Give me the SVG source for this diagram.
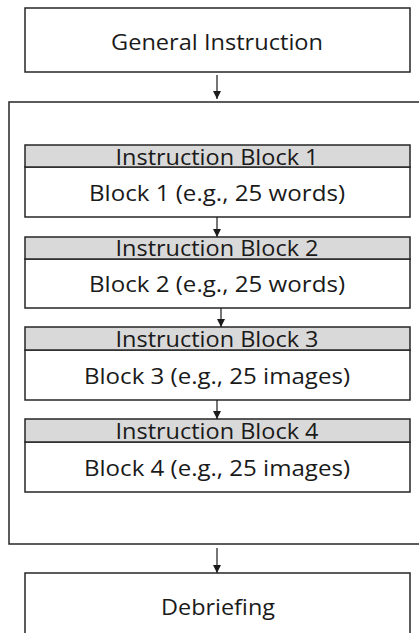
<svg xmlns="http://www.w3.org/2000/svg" width="419" height="633" viewBox="0 0 419 633">
<style>
.box{fill:#fff;stroke:#262626;stroke-width:1.5}
.hdr{fill:#d9d9d9;stroke:#262626;stroke-width:1.5}
.t{font-family:"Open Sans","Liberation Sans",sans-serif;font-size:21px;fill:#1a1a1a;text-anchor:middle}
.c{stroke:#1a1a1a;stroke-width:1.2;fill:none;marker-end:url(#ah)}
</style>
<defs>
<marker id="ah" viewBox="0 0 8 8" refX="8" refY="4" markerWidth="8" markerHeight="8" markerUnits="userSpaceOnUse" orient="auto">
<path d="M0,0 L8,4 L0,8 Z" fill="#1a1a1a"/>
</marker>
</defs>
<rect width="419" height="633" fill="#fff"/>
<g id="container"><rect class="box" x="9" y="102" width="420" height="442"/></g>
<g id="general"><rect class="box" x="25" y="8" width="385" height="64"/><text class="t" x="217" y="50" textLength="212" lengthAdjust="spacingAndGlyphs">General Instruction</text></g>
<g id="block1"><rect class="box" x="25" y="167" width="385" height="50"/><rect class="hdr" x="25" y="145" width="385" height="22"/><text class="t" x="217" y="165" textLength="203" lengthAdjust="spacingAndGlyphs">Instruction Block 1</text><text class="t" x="217" y="201" textLength="256" lengthAdjust="spacingAndGlyphs">Block 1 (e.g., 25 words)</text></g>
<g id="block2"><rect class="box" x="25" y="259" width="385" height="49"/><rect class="hdr" x="25" y="237" width="385" height="22"/><text class="t" x="217" y="256" textLength="203" lengthAdjust="spacingAndGlyphs">Instruction Block 2</text><text class="t" x="217" y="292" textLength="256" lengthAdjust="spacingAndGlyphs">Block 2 (e.g., 25 words)</text></g>
<g id="block3"><rect class="box" x="25" y="350" width="385" height="50"/><rect class="hdr" x="25" y="327" width="385" height="23"/><text class="t" x="217" y="347" textLength="203" lengthAdjust="spacingAndGlyphs">Instruction Block 3</text><text class="t" x="217" y="384" textLength="266" lengthAdjust="spacingAndGlyphs">Block 3 (e.g., 25 images)</text></g>
<g id="block4"><rect class="box" x="25" y="442" width="385" height="50"/><rect class="hdr" x="25" y="419" width="385" height="23"/><text class="t" x="217" y="439" textLength="203" lengthAdjust="spacingAndGlyphs">Instruction Block 4</text><text class="t" x="217" y="476" textLength="266" lengthAdjust="spacingAndGlyphs">Block 4 (e.g., 25 images)</text></g>
<g id="debriefing"><rect class="box" x="25" y="573" width="385" height="70"/><text class="t" x="218" y="615" textLength="114" lengthAdjust="spacingAndGlyphs">Debriefing</text></g>
<g id="connectors">
<path class="c" d="M217,75 V99"/>
<path class="c" d="M217,217 V237"/>
<path class="c" d="M221,308 V327"/>
<path class="c" d="M217,400 V419"/>
<path class="c" d="M217,548 V573"/>
</g>
</svg>
